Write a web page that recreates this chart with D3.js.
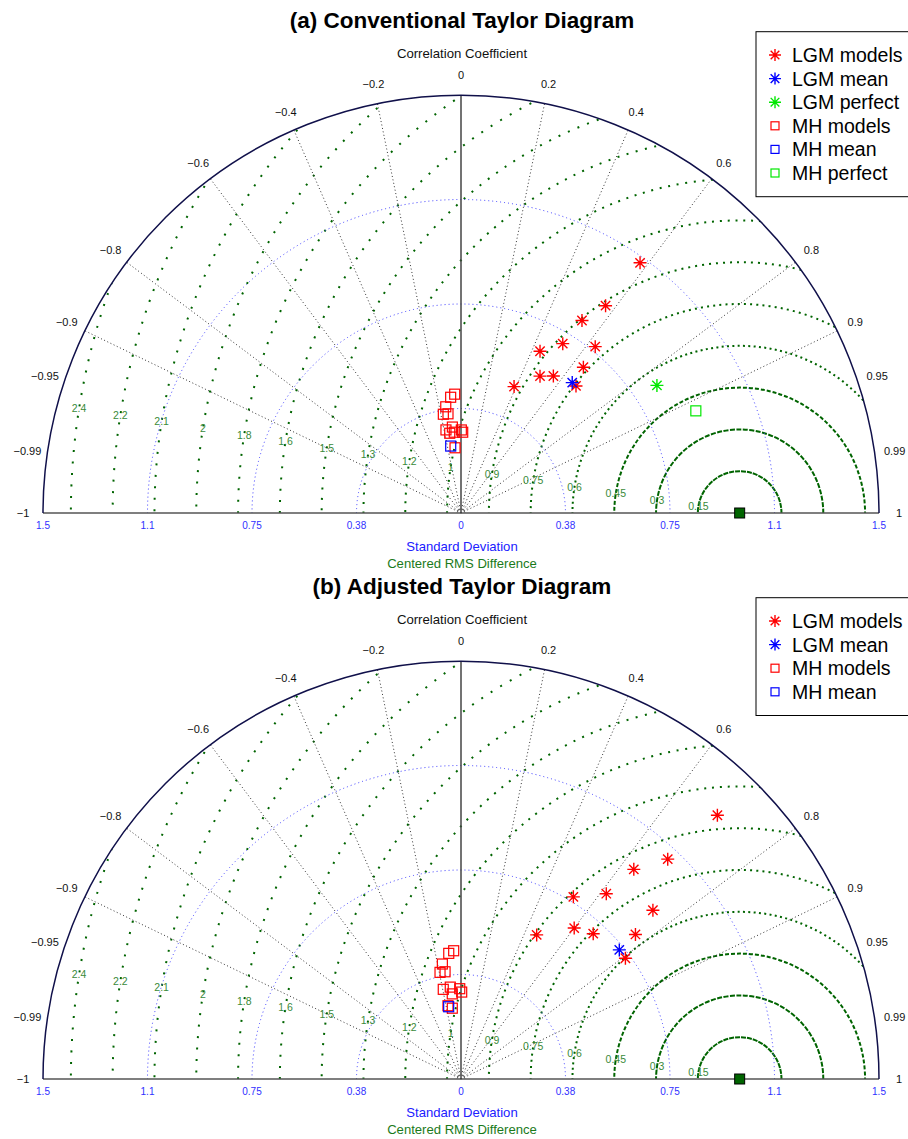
<!DOCTYPE html>
<html>
<head>
<meta charset="utf-8">
<script src="https://cdn.jsdelivr.net/npm/d3@7"></script>
<style>
  body { margin: 0; background: #fff; }
  text { font-family: "Liberation Sans", Arial, Helvetica, sans-serif; }
</style>
</head>
<body>
<script>
// ---- data ----
var corrTicks = [-1, -0.99, -0.95, -0.9, -0.8, -0.6, -0.4, -0.2, 0, 0.2, 0.4, 0.6, 0.8, 0.9, 0.95, 0.99, 1];
var corrLines = [-0.9, -0.8, -0.6, -0.4, -0.2, 0.2, 0.4, 0.6, 0.8, 0.9];
var stdTicks = [0.375, 0.75, 1.125, 1.5];
var stdTickLabels = ['0.38', '0.75', '1.1', '1.5'];
var rmsLevels = [0.15, 0.3, 0.45, 0.6, 0.75, 0.9, 1.05, 1.2, 1.35, 1.5, 1.65, 1.8, 1.95, 2.1, 2.25, 2.4];
var rmsLabels = ['0.15', '0.3', '0.45', '0.6', '0.75', '0.9', '1', '1.2', '1.3', '1.5', '1.6', '1.8', '2', '2.1', '2.2', '2.4'];
var refStd = 1;

// (a) conventional
var lgmStdA  = [1.104, 0.907, 0.816, 0.709, 0.646, 0.767, 0.683, 0.567, 0.593, 0.492, 0.615];
var lgmCorrA = [0.582, 0.572, 0.532, 0.515, 0.439, 0.628, 0.643, 0.500, 0.559, 0.387, 0.671];
var lgmMeanA = [0.615, 0.649];
var lgmPerfectA = [0.839, 0.838];
var mhStdA  = [0.427, 0.417, 0.385, 0.360, 0.359, 0.310, 0.303, 0.289, 0.291, 0.298, 0.290, 0.235];
var mhCorrA = [-0.053, -0.089, -0.142, -0.176, -0.130, -0.100, -0.178, -0.140, -0.083, 0.004, 0.021, -0.091];
var mhMeanA = [0.243, -0.152];
var mhPerfectA = [0.919, 0.917];

// (b) adjusted
var lgmStdB  = [1.320, 1.083, 0.975, 0.845, 0.768, 0.917, 0.677, 0.705, 0.813, 0.584, 0.732];
var lgmCorrB = [0.697, 0.685, 0.636, 0.617, 0.525, 0.751, 0.600, 0.673, 0.770, 0.465, 0.806];
var lgmMeanB = [0.733, 0.775];
var mhStdB  = [0.461, 0.453, 0.418, 0.390, 0.389, 0.332, 0.328, 0.307, 0.324, 0.312, 0.267, 0.256];
var mhCorrB = [-0.057, -0.097, -0.160, -0.193, -0.147, -0.116, -0.194, -0.102, -0.014, 0.008, -0.175, -0.122];
var mhMeanB = [0.263, -0.168];

var W = 908, H = 1139;
var R = 418;
var ox = 461;
var s = d3.scaleLinear().domain([0, 1.5]).range([0, R]);

var RED = '#ff0000', BLUE = '#0000ff', GREEN = '#00e800', DKGREEN = '#006400';

var svg = d3.select('body').append('svg')
  .attr('width', W)
  .attr('height', H);

function star(x, y, a) {
  var d = a * 0.72;
  return 'M' + (x - a) + ',' + y + 'H' + (x + a) + 'M' + x + ',' + (y - a) + 'V' + (y + a) +
    'M' + (x - d) + ',' + (y - d) + 'L' + (x + d) + ',' + (y + d) +
    'M' + (x - d) + ',' + (y + d) + 'L' + (x + d) + ',' + (y - d);
}

function fmtCorr(c) {
  return c < 0 ? '\u2212' + Math.abs(c) : String(c);
}

function rmsDash(rpx, i) {
  if (i === 0) return '5,1';
  if (i === 1) return '5,1.5';
  if (i === 2) return '4,2';
  var p = Math.min(11.5, 2 + rpx * 0.02);
  return '2,' + (p - 2);
}

function drawPanel(id, oy, title, points) {
  var g = svg.append('g');
  function pos(std, corr) {
    var r = s(std);
    return [ox + r * corr, oy - r * Math.sqrt(1 - corr * corr)];
  }

  g.append('text')
    .attr('x', 462).attr('y', oy - 493)
    .attr('text-anchor', 'middle').attr('dominant-baseline', 'central')
    .attr('font-size', 22.5).attr('font-weight', 'bold')
    .text(title);

  var clipId = 'clip' + id;
  g.append('clipPath').attr('id', clipId).append('path')
    .attr('d', 'M' + (ox - R) + ',' + oy + ' A' + R + ',' + R + ' 0 0,1 ' + (ox + R) + ',' + oy + ' Z');
  var grid = g.append('g').attr('clip-path', 'url(#' + clipId + ')');

  // centered RMS difference contours
  var rx = ox + s(refStd);
  grid.selectAll('circle.rms').data(rmsLevels).enter().append('circle')
    .attr('class', 'rms')
    .attr('cx', rx).attr('cy', oy)
    .attr('r', function(d) { return s(d); })
    .attr('fill', 'none')
    .attr('stroke', DKGREEN)
    .attr('stroke-width', 2)
    .attr('stroke-dasharray', function(d, i) { return rmsDash(s(d), i); });

  // std circles
  grid.selectAll('circle.std').data(stdTicks.slice(0, 3)).enter().append('circle')
    .attr('class', 'std')
    .attr('cx', ox).attr('cy', oy)
    .attr('r', function(d) { return s(d); })
    .attr('fill', 'none')
    .attr('stroke', '#3c3cff')
    .attr('stroke-width', 1)
    .attr('stroke-dasharray', '1,3');

  // correlation rays
  g.selectAll('line.corr').data(corrLines).enter().append('line')
    .attr('x1', ox).attr('y1', oy)
    .attr('x2', function(d) { return pos(1.5, d)[0]; })
    .attr('y2', function(d) { return pos(1.5, d)[1]; })
    .attr('stroke', '#333')
    .attr('stroke-width', 1)
    .attr('stroke-dasharray', '1,2.5');

  // axes and outer arc
  g.append('line')
    .attr('x1', ox - R).attr('y1', oy).attr('x2', ox + R).attr('y2', oy)
    .attr('stroke', '#555').attr('stroke-width', 1.5);
  g.append('line')
    .attr('x1', ox).attr('y1', oy).attr('x2', ox).attr('y2', oy - R)
    .attr('stroke', '#444').attr('stroke-width', 1.5);
  g.append('path')
    .attr('d', 'M' + (ox - R) + ',' + oy + ' A' + R + ',' + R + ' 0 0,1 ' + (ox + R) + ',' + oy)
    .attr('fill', 'none').attr('stroke', '#10104a').attr('stroke-width', 1.5);
  g.append('path')
    .attr('d', 'M' + (ox - 4) + ',' + oy + ' A4,4 0 0,1 ' + (ox + 4) + ',' + oy)
    .attr('fill', 'none').attr('stroke', '#666').attr('stroke-width', 1);

  // correlation tick labels
  g.selectAll('text.ct').data(corrTicks).enter().append('text')
    .attr('x', function(d) { return ox + 438 * d; })
    .attr('y', function(d) { return oy - 438 * Math.sqrt(1 - d * d); })
    .attr('text-anchor', 'middle').attr('dominant-baseline', 'central')
    .attr('font-size', 11).attr('fill', '#111')
    .text(fmtCorr);
  g.append('text')
    .attr('x', 462).attr('y', oy - 460)
    .attr('text-anchor', 'middle').attr('dominant-baseline', 'central')
    .attr('font-size', 13.2).attr('fill', '#111')
    .text('Correlation Coefficient');

  // std tick labels on both sides
  var stdAll = [{v: 0, t: '0', side: 0}];
  stdTicks.forEach(function(v, i) {
    stdAll.push({v: v, t: stdTickLabels[i], side: -1});
    stdAll.push({v: v, t: stdTickLabels[i], side: 1});
  });
  g.selectAll('text.st').data(stdAll).enter().append('text')
    .attr('x', function(d) { return ox + d.side * s(d.v); })
    .attr('y', oy + 12)
    .attr('text-anchor', 'middle').attr('dominant-baseline', 'central')
    .attr('font-size', 10).attr('fill', '#3030ff')
    .text(function(d) { return d.t; });
  g.append('text')
    .attr('x', 462).attr('y', oy + 33)
    .attr('text-anchor', 'middle').attr('dominant-baseline', 'central')
    .attr('font-size', 13.1).attr('fill', '#2020ff')
    .text('Standard Deviation');
  g.append('text')
    .attr('x', 462).attr('y', oy + 50)
    .attr('text-anchor', 'middle').attr('dominant-baseline', 'central')
    .attr('font-size', 13.1).attr('fill', '#1a7a1a')
    .text('Centered RMS Difference');

  // rms labels
  var ang = 171 * Math.PI / 180;
  g.selectAll('text.rl').data(rmsLevels).enter().append('text')
    .attr('x', function(d) { return rx + s(d) * Math.cos(ang); })
    .attr('y', function(d) { return oy - s(d) * Math.sin(ang); })
    .attr('text-anchor', 'middle').attr('dominant-baseline', 'central')
    .attr('font-size', 10.5).attr('fill', '#3a8a3a')
    .text(function(d, i) { return rmsLabels[i]; });

  // reference point
  g.append('rect')
    .attr('x', rx - 5).attr('y', oy - 5).attr('width', 10).attr('height', 10)
    .attr('fill', DKGREEN).attr('stroke', '#000').attr('stroke-width', 1);

  // markers
  points.forEach(function(p) {
    p.std.forEach(function(sd, i) {
      var xy = pos(sd, p.corr[i]);
      if (p.shape === 'star') {
        g.append('path').attr('d', star(xy[0], xy[1], 6.5))
          .attr('fill', 'none').attr('stroke', p.color).attr('stroke-width', 1.4);
      } else {
        g.append('rect')
          .attr('x', xy[0] - 5).attr('y', xy[1] - 5).attr('width', 10).attr('height', 10)
          .attr('fill', 'none').attr('stroke', p.color).attr('stroke-width', 1.2);
      }
    });
  });
}

function drawLegend(top, items) {
  var g = svg.append('g');
  var h = 23.6 * items.length + 23.4;
  g.append('rect')
    .attr('x', 756).attr('y', top).attr('width', 170).attr('height', h)
    .attr('fill', '#fff').attr('stroke', '#000').attr('stroke-width', 1);
  items.forEach(function(it, i) {
    var y = top + 23.3 + 23.6 * i;
    if (it.shape === 'star') {
      g.append('path').attr('d', star(775, y, 6))
        .attr('fill', 'none').attr('stroke', it.color).attr('stroke-width', 1.4);
    } else {
      g.append('rect')
        .attr('x', 771).attr('y', y - 4).attr('width', 8).attr('height', 8)
        .attr('fill', 'none').attr('stroke', it.color).attr('stroke-width', 1.2);
    }
    g.append('text')
      .attr('x', 792).attr('y', y)
      .attr('dominant-baseline', 'central')
      .attr('font-size', 19.5).attr('fill', '#000')
      .text(it.label);
  });
}

drawPanel('a', 513, '(a) Conventional Taylor Diagram', [
  {shape: 'star', color: RED, std: lgmStdA, corr: lgmCorrA},
  {shape: 'star', color: BLUE, std: [lgmMeanA[0]], corr: [lgmMeanA[1]]},
  {shape: 'star', color: GREEN, std: [lgmPerfectA[0]], corr: [lgmPerfectA[1]]},
  {shape: 'square', color: RED, std: mhStdA, corr: mhCorrA},
  {shape: 'square', color: BLUE, std: [mhMeanA[0]], corr: [mhMeanA[1]]},
  {shape: 'square', color: GREEN, std: [mhPerfectA[0]], corr: [mhPerfectA[1]]}
]);

drawPanel('b', 1079, '(b) Adjusted Taylor Diagram', [
  {shape: 'star', color: RED, std: lgmStdB, corr: lgmCorrB},
  {shape: 'star', color: BLUE, std: [lgmMeanB[0]], corr: [lgmMeanB[1]]},
  {shape: 'square', color: RED, std: mhStdB, corr: mhCorrB},
  {shape: 'square', color: BLUE, std: [mhMeanB[0]], corr: [mhMeanB[1]]}
]);

drawLegend(31.7, [
  {shape: 'star', color: RED, label: 'LGM models'},
  {shape: 'star', color: BLUE, label: 'LGM mean'},
  {shape: 'star', color: GREEN, label: 'LGM perfect'},
  {shape: 'square', color: RED, label: 'MH models'},
  {shape: 'square', color: BLUE, label: 'MH mean'},
  {shape: 'square', color: GREEN, label: 'MH perfect'}
]);
drawLegend(597.7, [
  {shape: 'star', color: RED, label: 'LGM models'},
  {shape: 'star', color: BLUE, label: 'LGM mean'},
  {shape: 'square', color: RED, label: 'MH models'},
  {shape: 'square', color: BLUE, label: 'MH mean'}
]);
</script>
</body>
</html>
